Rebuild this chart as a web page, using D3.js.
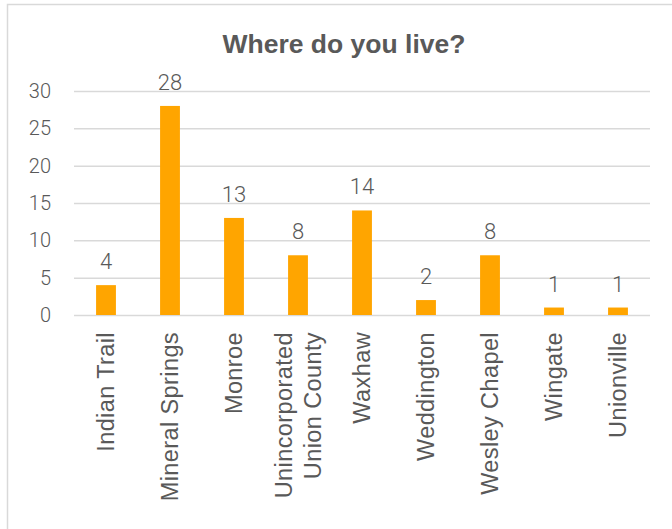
<!DOCTYPE html>
<html>
<head>
<meta charset="utf-8">
<script src="https://cdn.jsdelivr.net/npm/d3@7"></script>
<style>
  html, body { margin: 0; padding: 0; background: #fff; }
  svg { display: block; }
</style>
</head>
<body>
<script>
// Survey responses: where respondents live
const categories = [
  ["Indian Trail"],
  ["Mineral Springs"],
  ["Monroe"],
  ["Unincorporated", "Union County"],
  ["Waxhaw"],
  ["Weddington"],
  ["Wesley Chapel"],
  ["Wingate"],
  ["Unionville"]
];
const counts = [4, 28, 13, 8, 14, 2, 8, 1, 1];
const yTicks = [0, 5, 10, 15, 20, 25, 30];
const title = "Where do you live?";

const W = 672, H = 529;
const margin = { left: 74, right: 22, top: 91, bottom: 214 };
const textColor = "#595959";
const gridColor = "#d9d9d9";
const barColor = "#FFA500";

const svg = d3.select("body").append("svg")
  .attr("width", W).attr("height", H);

// chart frame
svg.append("rect")
  .attr("x", 7.5).attr("y", 4.5)
  .attr("width", W + 20).attr("height", H + 20)
  .attr("fill", "#fff").attr("stroke", gridColor).attr("stroke-width", 1.5);

const x = d3.scaleBand()
  .domain(d3.range(categories.length))
  .range([margin.left, W - margin.right])
  .paddingInner(0.69).paddingOuter(0.345);

const y = d3.scaleLinear()
  .domain([0, 30])
  .range([H - margin.bottom, margin.top]);

// title
svg.append("text")
  .attr("x", 344).attr("y", 53)
  .attr("text-anchor", "middle")
  .attr("font-family", "Liberation Sans, Arial, sans-serif")
  .attr("font-weight", "bold")
  .attr("font-size", 26.5)
  .attr("fill", textColor)
  .text(title);

// gridlines + y labels
const yAxis = d3.axisLeft(y).tickValues(yTicks)
  .tickSize(-(W - margin.right - margin.left))
  .tickPadding(23);
const gy = svg.append("g")
  .attr("transform", `translate(${margin.left},0)`)
  .call(yAxis);
gy.select(".domain").remove();
gy.selectAll(".tick line").attr("stroke", gridColor).attr("stroke-width", 1.5);
gy.selectAll(".tick text")
  .attr("font-family", "Roboto, Liberation Sans, sans-serif")
  .attr("font-weight", 300)
  .attr("font-size", 20)
  .attr("fill", textColor);

// bars
svg.append("g").selectAll("rect")
  .data(counts)
  .join("rect")
  .attr("x", (d, i) => x(i))
  .attr("width", x.bandwidth())
  .attr("y", d => y(d))
  .attr("height", d => y(0) - y(d))
  .attr("fill", barColor);

// value labels
svg.append("g").selectAll("text")
  .data(counts)
  .join("text")
  .attr("x", (d, i) => x(i) + x.bandwidth() / 2)
  .attr("y", d => y(d) - 16)
  .attr("text-anchor", "middle")
  .attr("font-family", "Roboto, Liberation Sans, sans-serif")
  .attr("font-weight", 300)
  .attr("font-size", 22)
  .attr("fill", textColor)
  .text(d => d);

// category labels, rotated
const lineGap = 29;
const catG = svg.append("g").selectAll("g")
  .data(categories)
  .join("g")
  .attr("transform", (d, i) =>
    `translate(${x(i) + x.bandwidth() / 2},${y(0) + 17}) rotate(-90)`);
catG.selectAll("text")
  .data(d => d.map((t, j) => ({ t, j, n: d.length })))
  .join("text")
  .attr("x", 0)
  .attr("y", d => (d.j - (d.n - 1) / 2) * lineGap)
  .attr("dy", "0.35em")
  .attr("text-anchor", "end")
  .attr("font-family", "Liberation Sans, Arial, sans-serif")
  .attr("font-size", 23.5)
  .attr("letter-spacing", 0.4)
  .attr("fill", textColor)
  .text(d => d.t);
</script>
</body>
</html>
